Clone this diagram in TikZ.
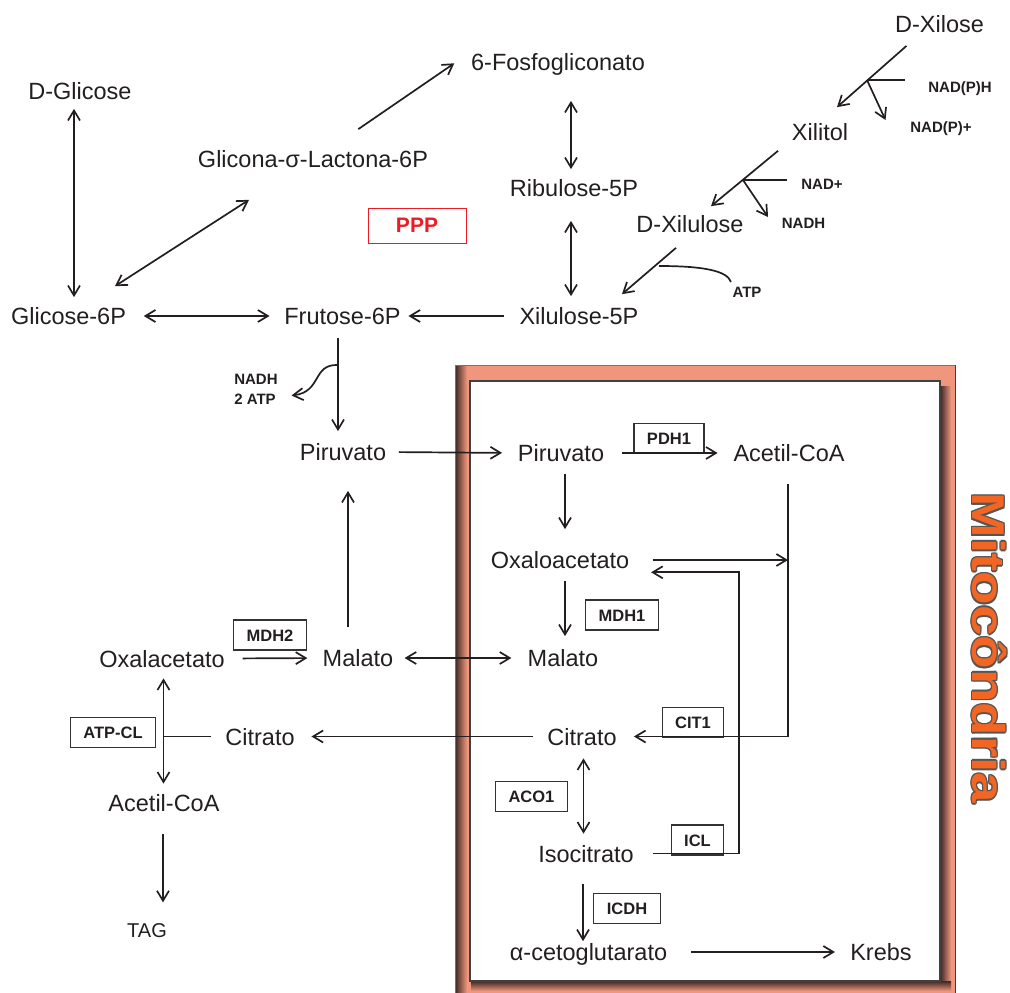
\documentclass[tikz,border=0pt]{standalone}
\usepackage{fontspec}
\usepackage{graphicx}
\setmainfont{Liberation Sans}
\usetikzlibrary{arrows.meta}

\definecolor{ink}{HTML}{231F20}
\definecolor{salmon}{HTML}{F0967D}
\definecolor{frameshadow}{HTML}{3C2723}
\definecolor{mitoorange}{HTML}{F26522}
\definecolor{mitoedge}{HTML}{555555}
\definecolor{pppred}{HTML}{ED1C24}

% outlined lettering: eight grey copies around an orange one
\newcommand\ringshift[3]{\rlap{\hspace*{#1pt}\raisebox{#2pt}{\color{mitoedge}#3}}}
\newcommand\ringtext[1]{%
  \ringshift{1.4}{0}{#1}\ringshift{-1.4}{0}{#1}%
  \ringshift{0}{1.4}{#1}\ringshift{0}{-1.4}{#1}%
  \ringshift{1}{1}{#1}\ringshift{1}{-1}{#1}%
  \ringshift{-1}{1}{#1}\ringshift{-1}{-1}{#1}%
  {\color{mitoorange}#1}}

\begin{document}
\begin{tikzpicture}[x=1pt,y=-1pt,line width=1.7pt,color=ink,
  >={Straight Barb[length=10pt,width=12pt]},
  met/.style={font=\fontsize{23.5}{28}\selectfont,inner sep=0pt,text height=17pt,text depth=0pt},
  cof/.style={font=\fontsize{15}{17}\selectfont\bfseries,inner sep=0pt,text height=11pt,text depth=0pt},
  enz/.style={draw=black!80,line width=1.2pt,font=\fontsize{16.5}{19}\selectfont\bfseries,
    inner xsep=13pt,inner ysep=0pt,minimum height=30pt,text height=12pt,text depth=0pt},
  gap/.style 2 args={shorten <=#1,shorten >=#2}]
\useasboundingbox (0,0) rectangle (1010,993);

% ---- mitochondrion frame ----
\fill[salmon] (455,365) rectangle (955,993);
\shade[left color=frameshadow,right color=salmon] (455,365) rectangle (467,993);
\shade[left color=frameshadow,right color=salmon] (940,386) rectangle (951,981);
\shade[top color=frameshadow,bottom color=salmon] (471,981) rectangle (951,991);
\draw[line width=1pt,black!55] (455,993) -- (455,365) -- (955,365);
\draw[line width=1pt,black!75] (955,365) -- (955,993);
\draw[line width=1.2pt,fill=white,draw=black!75] (470,381) rectangle (940,981);

\node[rotate=-90,inner sep=0pt,font=\fontsize{46}{50}\selectfont\bfseries,
  text height=33pt,text depth=0pt] (mito) at (989,648) {\scalebox{1.19}[1]{\ringtext{Mitocôndria}}};

% ---- metabolites ----
\node[met] (dxil) at (939.5,23.5) {D-Xilose};
\node[met] (fosfo) at (558,62) {6-Fosfogliconato};
\node[met] (dgli) at (80,90.5) {D-Glicose};
\node[met] (xilitol) at (820,131.5) {Xilitol};
\node[met] (lact) at (313,159) {Glicona-σ-Lactona-6P};
\node[met] (ribu) at (574,188) {Ribulose-5P};
\node[met] (dxilu) at (690,224) {D-Xilulose};
\node[met] (g6p) at (68.5,316) {Glicose-6P};
\node[met] (f6p) at (342.5,316) {Frutose-6P};
\node[met] (x5p) at (579,316) {Xilulose-5P};
\node[met] (piru) at (343,452) {Piruvato};
\node[met] (mpiru) at (561,453) {Piruvato};
\node[met] (macoa) at (789,453) {Acetil-CoA};
\node[met] (moaa) at (560,560) {Oxaloacetato};
\node[met] (mmal) at (563,658) {Malato};
\node[met] (mal) at (358,658) {Malato};
\node[met] (oaa) at (162,658.5) {Oxalacetato};
\node[met] (cit) at (260,736.5) {Citrato};
\node[met] (mcit) at (582,736.5) {Citrato};
\node[met] (acoa) at (164,803) {Acetil-CoA};
\node[met] (iso) at (586,853.5) {Isocitrato};
\node[met,font=\fontsize{20}{24}\selectfont,text height=14.5pt] (tag) at (147,930) {TAG};
\node[met] (akg) at (588.5,952) {α-cetoglutarato};
\node[met] (krebs) at (881,952) {Krebs};

% ---- cofactors ----
\node[cof] (nadph) at (960,87) {NAD(P)H};
\node[cof] (nadpp) at (941,127) {NAD(P)+};
\node[cof] (nadp) at (822,184) {NAD+};
\node[cof] (nadh) at (803.5,222.5) {NADH};
\node[cof] (atp) at (747,291.5) {ATP};
\node[font=\fontsize{15}{19.5}\selectfont\bfseries,inner sep=0pt,align=left] (glyen) at (256,389.5) {NADH\\2 ATP};

% ---- enzymes ----
\node[enz] (pdh1) at (669,438.5) {PDH1};
\node[enz] (mdh2) at (270,635) {MDH2};
\node[enz] (mdh1) at (622,615) {MDH1};
\node[enz] (atpcl) at (113,732.5) {ATP-CL};
\node[enz] (cit1) at (693,722.5) {CIT1};
\node[enz] (aco1) at (531.5,796.5) {ACO1};
\node[enz] (icl) at (697.5,840) {ICL};
\node[enz] (icdh) at (627,908.5) {ICDH};
\node[draw=pppred,line width=1pt,text=pppred,font=\fontsize{21}{24}\selectfont\bfseries,
  minimum width=98pt,minimum height=35pt,inner sep=0pt] (ppp) at (417,225.5) {PPP};

% ---- glucose, pentose phosphate pathway ----
\draw[<->,gap={9pt}{9.5pt}] ([xshift=-6pt]dgli.south) -- ([xshift=5.5pt]g6p.north);
\draw[<->] ([xshift=46.5pt,yshift=20.5pt]g6p.north) -- ([xshift=-64pt,yshift=-31.5pt]lact.south);
\draw[->] ([xshift=45.3pt,yshift=20.5pt]lact.north) -- ([xshift=-16pt,yshift=-1.3pt]fosfo.west);
\draw[<->,gap={29.5pt}{9.5pt}] ([xshift=13pt]fosfo.south) -- ([xshift=-3pt]ribu.north);
\draw[<->,gap={23.5pt}{10.5pt}] ([xshift=-3pt]ribu.south) -- ([xshift=-8pt]x5p.north);
\draw[<->,gap={17pt}{14pt}] (g6p.east) -- (f6p.west);
\draw[->,gap={14.5pt}{7pt}] (x5p.west) -- (f6p.east);

% ---- xylose branch ----
\draw[->] ([xshift=-33pt,yshift=-13pt]dxil.south) -- ([xshift=17pt,yshift=15pt]xilitol.north);
\coordinate (xr) at (867,80);
\coordinate (xrend) at (905,80);
\coordinate (xrtip) at (885.5,120);
\draw (xr) -- (xrend);
\draw[->] (xr) -- (xrtip);

\draw[->] ([xshift=-42pt,yshift=-10pt]xilitol.south) -- ([xshift=21pt,yshift=8.5pt]dxilu.north);
\coordinate (dr) at (743,180);
\coordinate (drend) at (787,180);
\coordinate (drtip) at (768,217);
\draw (dr) -- (drend);
\draw[->] (dr) -- (drtip);

\draw[->] ([xshift=-14pt,yshift=-14.5pt]dxilu.south) -- ([xshift=43pt,yshift=12.5pt]x5p.north);
\coordinate (kr) at (659,266);
\coordinate (krend) at (731,282);
\draw (kr) .. controls (700,266) and (727,270) .. (krend);

% ---- glycolysis ----
\draw[->,gap={12.5pt}{11.5pt}] ([xshift=-4.5pt]f6p.south) -- ([xshift=-5pt]piru.north);
\coordinate (glyc) at (338,365);
\draw[->] (glyc) .. controls (312,364) and (322,392) .. ([xshift=13pt,yshift=-6pt]glyen.east);

\draw[->,gap={12pt}{15pt}] (piru.east) -- (mpiru.west);
\draw[->,gap={17.5pt}{15pt}] (mpiru.east) -- (macoa.west);
\draw[->,gap={11.5pt}{21.5pt}] ([xshift=4pt]mpiru.south) -- ([xshift=5pt]moaa.north);

% ---- citrate cycle and glyoxylate shunt ----
\coordinate (acdrop) at ([xshift=-1pt,yshift=-21.5pt]macoa.south);
\draw[->,shorten >=16.5pt] (acdrop) |- (mcit.east);
\draw[->,shorten <=22.5pt] (moaa.east) -- (moaa.east -| acdrop);
\coordinate (glyox) at (739,572.3);
\draw[->,shorten <=18pt] (iso.east) -| (glyox) -- ([xshift=21pt,yshift=-12.3pt]moaa.east);
\draw[->,gap={11.5pt}{12.5pt}] ([xshift=5pt]moaa.south) -- ([xshift=2pt]mmal.north);
\draw[<->,gap={12.5pt}{10.5pt}] ([xshift=1.5pt]mcit.south) -- ([xshift=-2.5pt]iso.north);
\draw[->,gap={21pt}{1.5pt}] ([xshift=-3pt]iso.south) -- ([xshift=-5.5pt]akg.north);
\draw[->,gap={23pt}{14.5pt}] (akg.east) -- (krebs.west);

% ---- cytosolic return ----
\draw[<->,gap={10.5pt}{15.5pt}] (mal.east) -- (mmal.west);
\draw[->,gap={21.5pt}{29.5pt}] ([xshift=-10pt]mal.north) -- ([xshift=5pt]piru.south);
\draw[->,gap={17pt}{14.5pt}] (oaa.east) -- (mal.west);
\draw[->,gap={14pt}{16pt}] (mcit.west) -- (cit.east);
\coordinate (oaax) at ([xshift=1.5pt]oaa.south);
\draw[shorten <=13.5pt] (cit.west) -- (cit.west -| oaax);
\draw[<->,gap={10.5pt}{10pt}] (oaax) -- ([xshift=-0.5pt]acoa.north);
\draw[->,gap={21.5pt}{19.5pt}] ([xshift=-1pt]acoa.south) -- ([xshift=16pt]tag.north);
\end{tikzpicture}
\end{document}
